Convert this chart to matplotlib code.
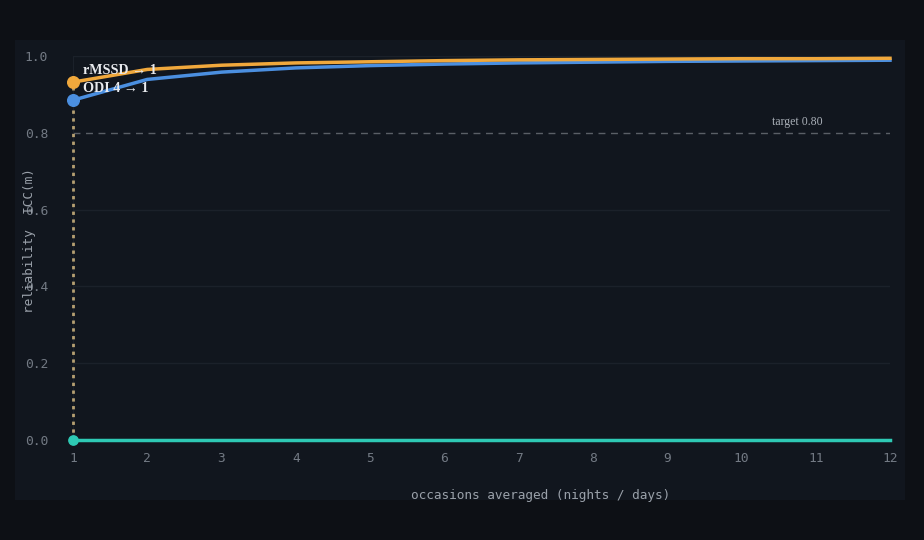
import matplotlib
matplotlib.use("Agg")
import matplotlib.pyplot as plt

occasions = [1, 2, 3, 4, 5, 6, 7, 8, 9, 10, 11, 12]
rmssd_icc = [0.932, 0.965, 0.976, 0.982, 0.985, 0.988, 0.990, 0.991, 0.992, 0.993, 0.993, 0.994]
odi_icc = [0.885, 0.939, 0.958, 0.969, 0.975, 0.979, 0.982, 0.984, 0.986, 0.987, 0.988, 0.989]
zero_icc = [0.0] * 12
target = 0.80
y_ticks = [0.0, 0.2, 0.4, 0.6, 0.8, 1.0]
x_ticks = occasions

W, H = 924, 540
fig = plt.figure(figsize=(W / 100, H / 100), dpi=100)
fig.patch.set_facecolor("#0d1015")

bg = fig.add_axes([15 / W, 1 - 500 / H, 890 / W, 460 / H], zorder=0)
bg.set_facecolor("#11161e")
bg.set_xticks([]); bg.set_yticks([])
for s in bg.spines.values():
    s.set_visible(False)

ax = fig.add_axes([73 / W, 1 - 440 / H, (890 - 73) / W, (440 - 56) / H], zorder=1)
ax.set_facecolor("#11161e")
ax.set_xlim(1, 12)
ax.set_ylim(0, 1)

for yv in y_ticks:
    if yv not in (0.0, target):
        ax.axhline(yv, color="#1b212a", lw=1, zorder=1)
ax.axhline(target, color="#5a5f66", lw=1, ls=(0, (5, 4)), zorder=2)
ax.text(10.75, target + 0.012, "target 0.80", family="Liberation Serif",
        fontsize=8.5, color="#aab0b8", ha="center", va="bottom")

ax.plot([occasions[0], occasions[0]], [0, rmssd_icc[0]], color="#b59f72",
        lw=2, ls=(0, (1.2, 1.6)), zorder=3, clip_on=False)

ax.plot(occasions, zero_icc, color="#2ec9b4", lw=2.5, zorder=4, clip_on=False)
ax.plot(occasions, odi_icc, color="#4b8fe0", lw=2.5, zorder=5, clip_on=False)
ax.plot(occasions, rmssd_icc, color="#f0a83c", lw=2.5, zorder=6, clip_on=False)
ax.scatter([occasions[0]], [zero_icc[0]], s=45, color="#2ec9b4", zorder=7, clip_on=False)
ax.scatter([occasions[0]], [odi_icc[0]], s=70, color="#4b8fe0", zorder=7, clip_on=False)
ax.scatter([occasions[0]], [rmssd_icc[0]], s=70, color="#f0a83c", zorder=7, clip_on=False)

ax.text(1.13, rmssd_icc[0] + 0.03, "rMSSD \u2192 1", family="Liberation Serif",
        fontsize=10.2, fontweight="bold", color="#e8eaee", ha="left", va="center", zorder=8)
ax.text(1.13, odi_icc[0] + 0.03, "ODI 4 \u2192 1", family="Liberation Serif",
        fontsize=10.2, fontweight="bold", color="#e8eaee", ha="left", va="center", zorder=8)

for s in ["top", "right", "bottom"]:
    ax.spines[s].set_visible(False)
ax.spines["left"].set_color("#1b212a")
ax.set_xticks(x_ticks)
ax.set_yticks(y_ticks)
ax.set_yticklabels([f"{v:.1f}" for v in y_ticks])
ax.tick_params(length=0, colors="#737a84", labelsize=9.3)
ax.tick_params(axis="x", pad=9)
ax.tick_params(axis="y", pad=18)
for lab in ax.get_xticklabels() + ax.get_yticklabels():
    lab.set_family("DejaVu Sans Mono")
ax.set_xlabel("occasions averaged (nights / days)", family="DejaVu Sans Mono",
              fontsize=9.15, color="#9aa1aa")
ax.xaxis.set_label_coords((541 - 73) / 817, -(489 - 440) / 384)
ax.set_ylabel("reliability  ICC(m)", family="DejaVu Sans Mono",
              fontsize=9.15, color="#9aa1aa")
ax.yaxis.set_label_coords(-(73 - 36) / 817, (440 - 241) / 384)

fig.savefig("out.png", dpi=100, facecolor=fig.get_facecolor())
